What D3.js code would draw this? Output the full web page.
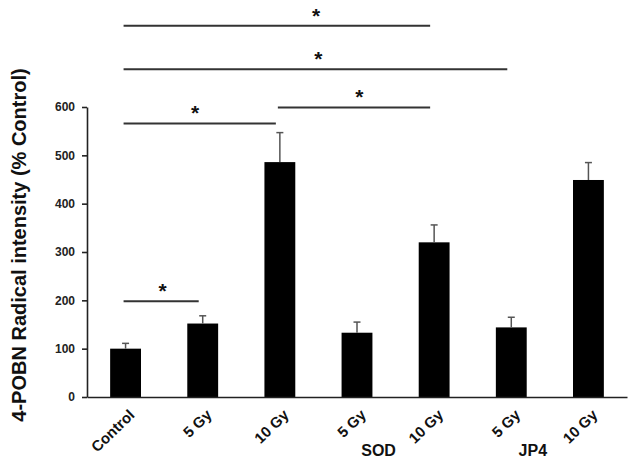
<!DOCTYPE html>
<html>
<head>
<meta charset="utf-8">
<script src="https://cdn.jsdelivr.net/npm/d3@7"></script>
<style>
  body { margin: 0; background: #fff; }
  svg { display: block; font-family: "Liberation Sans", Arial, sans-serif; }
</style>
</head>
<body>
<div id="vis"></div>
<script>
const frame_width = 635;
const frame_height = 463;
const margins = {left: 87, right: 8, top: 107, bottom: 66};

// data
const labels = ["Control", "5 Gy", "10 Gy", "5 Gy", "10 Gy", "5 Gy", "10 Gy"];
const means = [100, 152, 486, 133, 320, 144, 449];
const errors = [11, 16, 61, 22, 36, 21, 36];
const y_ticks = [0, 100, 200, 300, 400, 500, 600];
const groups = [
    {name: "SOD", first: 3, last: 4},
    {name: "JP4", first: 5, last: 6}
];
// significance lines: from bar, to bar, height (y units), star position (bar index)
const sig_from = [0, 0, 0, 2, 0];
const sig_to = [4, 5, 2, 4, 1];
const sig_level = [768, 678, 566, 599, 198];
const sig_star = [2.47, 2.5, 0.9, 3.03, 0.48];

const idx = labels.map((d, i) => i);

const svg = d3.select("#vis")
    .append("svg")
        .attr("width", frame_width)
        .attr("height", frame_height);

const x_scale = d3.scaleBand()
    .domain(idx)
    .range([margins.left, frame_width - margins.right])
    .paddingInner(0.6)
    .paddingOuter(0.3);

const y_scale = d3.scaleLinear()
    .domain([0, 600])
    .range([frame_height - margins.bottom, margins.top]);

const cx = (i) => x_scale(i) + x_scale.bandwidth() / 2;
const step = x_scale.step();
const pos = (p) => cx(0) + p * step;

// bars
svg.selectAll(".bar")
    .data(idx)
    .enter()
    .append("rect")
        .attr("class", "bar")
        .attr("x", (i) => x_scale(i))
        .attr("y", (i) => y_scale(means[i]))
        .attr("width", x_scale.bandwidth())
        .attr("height", (i) => y_scale(0) - y_scale(means[i]))
        .attr("fill", "#000");

// error bars (upper only)
const err = svg.append("g").attr("stroke", "#555").attr("stroke-width", 1.5);
err.selectAll(".ev")
    .data(idx)
    .enter()
    .append("line")
        .attr("x1", cx).attr("x2", cx)
        .attr("y1", (i) => y_scale(means[i]))
        .attr("y2", (i) => y_scale(means[i] + errors[i]));
err.selectAll(".ec")
    .data(idx)
    .enter()
    .append("line")
        .attr("x1", (i) => cx(i) - 3.5).attr("x2", (i) => cx(i) + 3.5)
        .attr("y1", (i) => y_scale(means[i] + errors[i]))
        .attr("y2", (i) => y_scale(means[i] + errors[i]));

// y axis
const y_axis = svg.append("g")
    .attr("transform", "translate(" + margins.left + ",0)")
    .call(d3.axisLeft(y_scale).tickValues(y_ticks).tickSize(5).tickSizeOuter(0).tickPadding(7));
y_axis.selectAll("text")
    .attr("font-size", "12px")
    .attr("font-weight", "bold")
    .attr("fill", "#222");
y_axis.selectAll("path, line").attr("stroke", "#222").attr("stroke-width", 1.6);

// x axis
const x_axis = svg.append("g")
    .attr("transform", "translate(0," + y_scale(0) + ")")
    .call(d3.axisBottom(x_scale).tickSize(0).tickSizeOuter(0).tickFormat((i) => labels[i]));
x_axis.select(".domain").attr("stroke", "#222").attr("stroke-width", 1.6);
x_axis.selectAll("text")
    .attr("font-size", "15px")
    .attr("font-weight", "bold")
    .attr("fill", "#111")
    .attr("text-anchor", "end")
    .attr("dy", null)
    .attr("y", 0)
    .attr("transform", "translate(10,19) rotate(-44)");

// group labels
svg.selectAll(".grp")
    .data(groups)
    .enter()
    .append("text")
        .attr("x", (g) => (cx(g.first) + cx(g.last)) / 2 - 17)
        .attr("y", 456)
        .attr("text-anchor", "middle")
        .attr("font-size", "16px")
        .attr("font-weight", "bold")
        .attr("fill", "#111")
        .text((g) => g.name);

// y title
svg.append("text")
    .attr("transform", "translate(26," + ((y_scale(0) + y_scale(600)) / 2 - 7) + ") rotate(-90)")
    .attr("text-anchor", "middle")
    .attr("font-size", "20px")
    .attr("font-weight", "bold")
    .attr("fill", "#111")
    .text("4-POBN Radical intensity (% Control)");

// significance lines and stars
const sig = d3.range(sig_from.length);
svg.selectAll(".sig")
    .data(sig)
    .enter()
    .append("line")
        .attr("x1", (k) => cx(sig_from[k]) - 2)
        .attr("x2", (k) => cx(sig_to[k]) - 4)
        .attr("y1", (k) => y_scale(sig_level[k]))
        .attr("y2", (k) => y_scale(sig_level[k]))
        .attr("stroke", "#333")
        .attr("stroke-width", 2);
svg.selectAll(".star")
    .data(sig)
    .enter()
    .append("text")
        .attr("x", (k) => pos(sig_star[k]))
        .attr("y", (k) => y_scale(sig_level[k]) - 3)
        .attr("text-anchor", "middle")
        .attr("font-size", "21px")
        .attr("font-weight", "bold")
        .attr("fill", "#111")
        .text("*");
</script>
</body>
</html>
